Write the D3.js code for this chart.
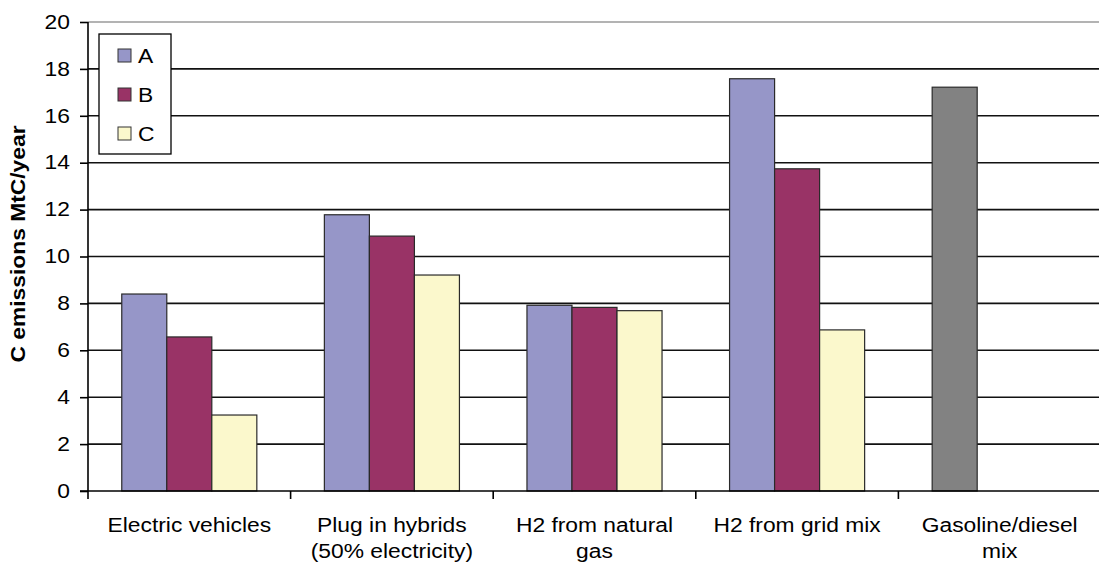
<!DOCTYPE html>
<html>
<head>
<meta charset="utf-8">
<script src="https://cdn.jsdelivr.net/npm/d3@7"></script>
<style>
  body { margin: 0; background: #fff; }
  svg { display: block; font-family: "Liberation Sans", Arial, sans-serif; }
</style>
</head>
<body>
<div id="chart"></div>
<script>
const width = 1099;
const height = 566;
const margin = { top: 22, right: -2, bottom: 75, left: 88 };
const FONT_SIZE = 19.5;
const STRETCH = 1.17; // the original text is a bit wider than plain Arial

const categories = [
  ['Electric vehicles'],
  ['Plug in hybrids', '(50% electricity)'],
  ['H2 from natural', 'gas'],
  ['H2 from grid mix'],
  ['Gasoline/diesel', 'mix']
];
const seriesNames = ['A', 'B', 'C'];
const seriesA = [8.4, 11.78, 7.92, 17.58, 17.22];
const seriesB = [6.57, 10.87, 7.83, 13.74, null];
const seriesC = [3.24, 9.21, 7.69, 6.87, null];
const yTicks = [0, 2, 4, 6, 8, 10, 12, 14, 16, 18, 20];

const colors = { A: '#9696c8', B: '#993366', C: '#fbf8cc' };
const grayBar = '#828282';

const seriesValues = [seriesA, seriesB, seriesC];
const rows = categories.map((c, i) => ({
  key: i,
  label: c,
  values: seriesNames.map((s, j) => ({ series: s, value: seriesValues[j][i], cat: i }))
}));

const svg = d3.select('#chart').append('svg')
  .attr('width', width)
  .attr('height', height);

const x0 = d3.scaleBand()
  .domain(rows.map((d) => d.key))
  .range([margin.left, width - margin.right])
  .padding(0);

// excel style gap width 150%: bar = band / 4.5
const barW = x0.bandwidth() / 4.5;
const x1 = d3.scaleBand()
  .domain(seriesNames)
  .range([barW * 0.75, barW * 3.75])
  .padding(0);

const y = d3.scaleLinear()
  .domain([0, 20])
  .range([height - margin.bottom, margin.top]);

// gridlines
svg.append('g')
  .selectAll('line')
  .data(yTicks.filter((t) => t > 0))
  .enter().append('line')
    .attr('x1', margin.left)
    .attr('x2', width)
    .attr('y1', (d) => y(d))
    .attr('y2', (d) => y(d))
    .attr('stroke', (d) => d === 20 ? '#9a9a9a' : '#111')
    .attr('stroke-width', 1.6);

// bars
const group = svg.append('g')
  .selectAll('g')
  .data(rows)
  .enter().append('g')
    .attr('transform', (d) => `translate(${x0(d.key)},0)`);

group.selectAll('rect')
  .data((d) => d.values.filter((v) => v.value != null))
  .enter().append('rect')
    .attr('x', (d) => x1(d.series))
    .attr('y', (d) => y(d.value))
    .attr('width', x1.bandwidth())
    .attr('height', (d) => y(0) - y(d.value))
    .attr('fill', (d) => d.cat === 4 ? grayBar : colors[d.series])
    .attr('stroke', '#2a2a2a')
    .attr('stroke-width', 1.2);

// y axis
const yAxis = svg.append('g')
  .attr('transform', `translate(${margin.left},0)`)
  .call(d3.axisLeft(y).tickValues(yTicks).tickSize(8).tickPadding(7.5));
yAxis.select('.domain').attr('stroke', '#000').attr('stroke-width', 1.6)
  .attr('d', `M0,${y(20)}V${y(0)}`);
yAxis.selectAll('.tick line').attr('stroke', '#000').attr('stroke-width', 1.6);
yAxis.selectAll('.tick text')
  .attr('font-size', FONT_SIZE)
  .attr('fill', '#000')
  .attr('transform', `scale(${STRETCH},1)`)
  .style('font-family', '"Liberation Sans", Arial, sans-serif');

// x axis
svg.append('line')
  .attr('x1', margin.left - 8)
  .attr('x2', width)
  .attr('y1', y(0))
  .attr('y2', y(0))
  .attr('stroke', '#000')
  .attr('stroke-width', 1.6);

svg.append('g')
  .selectAll('line')
  .data(rows)
  .enter().append('line')
    .attr('x1', (d) => x0(d.key))
    .attr('x2', (d) => x0(d.key))
    .attr('y1', y(0))
    .attr('y2', y(0) + 8)
    .attr('stroke', '#000')
    .attr('stroke-width', 1.6);

const labelLines = rows.flatMap((d) => d.label.map((l, i) => ({
  text: l,
  x: x0(d.key) + x0.bandwidth() / 2,
  y: 532 + 26 * i
})));

svg.append('g')
  .selectAll('text')
  .data(labelLines)
  .enter().append('text')
    .attr('transform', (d) => `translate(${d.x},${d.y}) scale(${STRETCH},1)`)
    .attr('text-anchor', 'middle')
    .attr('font-size', FONT_SIZE)
    .attr('fill', '#000')
    .text((d) => d.text);

// y title
svg.append('text')
  .attr('transform', `translate(25,244) rotate(-90) scale(${STRETCH},1)`)
  .attr('text-anchor', 'middle')
  .attr('font-size', FONT_SIZE)
  .attr('font-weight', 'bold')
  .attr('fill', '#000')
  .text('C emissions MtC/year');

// legend
const legend = svg.append('g').attr('transform', 'translate(99,34)');
legend.append('rect')
  .attr('width', 72)
  .attr('height', 120)
  .attr('fill', '#fff')
  .attr('stroke', '#000')
  .attr('stroke-width', 1.3);

const legendItem = legend.selectAll('g')
  .data(seriesNames)
  .enter().append('g')
    .attr('transform', (d, i) => `translate(19,${15 + 39 * i})`);

legendItem.append('rect')
  .attr('width', 13)
  .attr('height', 13)
  .attr('fill', (d) => colors[d])
  .attr('stroke', '#333')
  .attr('stroke-width', 1);

legendItem.append('text')
  .attr('transform', `translate(20,13.5) scale(${STRETCH},1)`)
  .attr('font-size', FONT_SIZE)
  .attr('fill', '#000')
  .text((d) => d);
</script>
</body>
</html>
